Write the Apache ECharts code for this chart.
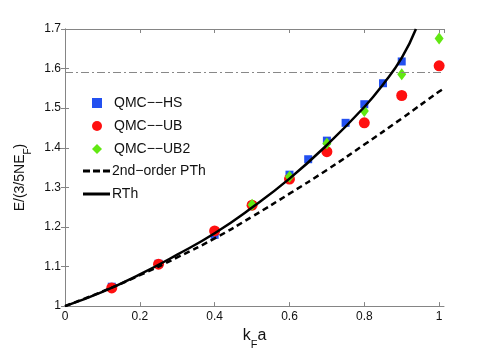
<!DOCTYPE html>
<html>
<head>
<meta charset="utf-8">
<title>E/(3/5NE_F) vs kFa</title>
<script src="https://cdn.jsdelivr.net/npm/echarts@6/dist/echarts.min.js"></script>
<style>
html, body { margin: 0; padding: 0; background: #fff; }
#main { width: 491px; height: 355px; }
</style>
</head>
<body>
<div id="main"></div>
<script type="text/javascript">
  // QMC data
  var hsX = [0.125, 0.25, 0.4, 0.5, 0.6, 0.65, 0.7, 0.75, 0.8, 0.85, 0.9];
  var hsY = [1.049, 1.107, 1.18, 1.255, 1.332, 1.371, 1.418, 1.463, 1.51, 1.563, 1.618];

  var ubX = [0.125, 0.25, 0.4, 0.5, 0.6, 0.7, 0.8, 0.9, 1.0];
  var ubY = [1.046, 1.106, 1.19, 1.255, 1.321, 1.39, 1.463, 1.532, 1.607];

  var ub2X = [0.5, 0.6, 0.7, 0.8, 0.9, 1.0];
  var ub2Y = [1.256, 1.327, 1.411, 1.493, 1.586, 1.676];

  // theory curves
  var ptX = [0, 0.1, 0.2, 0.3, 0.4, 0.5, 0.6, 0.7, 0.8, 0.9, 1.0, 1.013];
  var ptY = [1, 1.037, 1.078, 1.123, 1.171, 1.226, 1.284, 1.344, 1.408, 1.474, 1.542, 1.55];

  var rthX = [0, 0.1, 0.2, 0.3, 0.4, 0.5, 0.6, 0.7, 0.8, 0.85, 0.9, 0.938];
  var rthY = [1, 1.036, 1.08, 1.13, 1.184, 1.249, 1.322, 1.407, 1.503, 1.56, 1.627, 1.70];

  var levelY = 1.587;

  var names = ['QMC\u2212\u2212HS', 'QMC\u2212\u2212UB', 'QMC\u2212\u2212UB2', '2nd\u2212order PTh', 'RTh'];

  function pairs(xs, ys) {
    return xs.map(function (x, i) { return [x, ys[i]]; });
  }

  var frame = '#858585';
  var font = 'Liberation Sans, Arial, Helvetica, sans-serif';
  var blue = '#2350f0', red = '#ff1010', green = '#62e812';

  var chart = echarts.init(document.getElementById('main'));

  var xBase = {
    type: 'value', min: 0, max: 1.013, interval: 0.2,
    axisLine: { show: true, lineStyle: { color: frame, width: 1 } },
    axisTick: { show: true, inside: true, length: 4, lineStyle: { color: frame } },
    splitLine: { show: false }
  };
  var yBase = {
    type: 'value', min: 1, max: 1.7, interval: 0.1,
    axisLine: { show: true, lineStyle: { color: frame, width: 1 } },
    axisTick: { show: true, inside: true, length: 4, lineStyle: { color: frame } },
    splitLine: { show: false }
  };

  var legendText = { fontFamily: font, fontSize: 14, color: '#111' };

  var option = {
    backgroundColor: '#fff',
    animation: false,
    grid: { left: 65, right: 47, top: 29, bottom: 42, containLabel: false },
    legend: [
      {
        // marker entries
        orient: 'vertical', left: 92, top: 96, padding: 0,
        itemWidth: 10, itemHeight: 10, itemGap: 9,
        textStyle: Object.assign({ padding: [0, 0, 0, 7] }, legendText),
        data: [
          { name: names[0], icon: 'rect', itemStyle: { color: blue } },
          { name: names[1], icon: 'circle', itemStyle: { color: red } },
          { name: names[2], icon: 'diamond', itemStyle: { color: green } }
        ]
      },
      {
        // line entries
        orient: 'vertical', left: 83, top: 164, padding: 0,
        itemWidth: 27, itemHeight: 3, itemGap: 9,
        textStyle: Object.assign({ padding: [0, 0, 0, -3] }, legendText),
        data: [
          { name: names[3], icon: 'path://M0,0h7v3h-7zM10,0h7v3h-7zM20,0h7v3h-7z', itemStyle: { color: '#000' } },
          { name: names[4], icon: 'rect', itemStyle: { color: '#000' } }
        ]
      }
    ],
    xAxis: [
      Object.assign({}, xBase, {
        position: 'bottom',
        axisLabel: {
          show: true, margin: 5, fontFamily: font, fontSize: 12, color: '#111',
          showMaxLabel: false,
          formatter: function (v) {
            var k = Math.round(v / 0.2);
            if (Math.abs(v - k * 0.2) > 1e-6) return '';
            return String(+(k * 0.2).toFixed(1));
          }
        },
        name: '{a|k}{s|F}{a|a}',
        nameLocation: 'middle', nameGap: 12,
        nameTextStyle: {
          fontFamily: font, color: '#111',
          rich: {
            a: { fontFamily: font, fontSize: 16, color: '#111', verticalAlign: 'top', lineHeight: 22 },
            s: { fontFamily: font, fontSize: 11, color: '#111', verticalAlign: 'bottom', lineHeight: 22 }
          }
        }
      }),
      Object.assign({}, xBase, { position: 'top', axisLabel: { show: false } })
    ],
    yAxis: [
      Object.assign({}, yBase, {
        position: 'left',
        axisLabel: {
          show: true, margin: 4, fontFamily: font, fontSize: 12, color: '#111',
          formatter: function (v) { return String(+v.toFixed(1)); }
        },
        name: '{a|E/(3/5NE}{s|F}{a|)}',
        nameLocation: 'middle', nameGap: 26, nameRotate: 90,
        nameTextStyle: {
          fontFamily: font, color: '#111', padding: [0, 20, 0, 0],
          rich: {
            a: { fontFamily: font, fontSize: 14, color: '#111', verticalAlign: 'top', lineHeight: 20 },
            s: { fontFamily: font, fontSize: 10, color: '#111', verticalAlign: 'bottom', lineHeight: 20 }
          }
        }
      }),
      Object.assign({}, yBase, { position: 'right', axisLabel: { show: false } })
    ],
    series: [
      {
        name: names[0], type: 'scatter', symbol: 'rect', symbolSize: 8,
        itemStyle: { color: blue, opacity: 1 }, z: 2,
        data: pairs(hsX, hsY)
      },
      {
        name: names[1], type: 'scatter', symbol: 'circle', symbolSize: 11,
        itemStyle: { color: red, opacity: 1 }, z: 3,
        data: pairs(ubX, ubY)
      },
      {
        name: names[2], type: 'scatter', symbol: 'diamond', symbolSize: [9, 12],
        itemStyle: { color: green, opacity: 1 }, z: 4,
        data: pairs(ub2X, ub2Y)
      },
      {
        name: names[3], type: 'line', showSymbol: false, symbol: 'none', smooth: true,
        lineStyle: { color: '#000', width: 2.5, type: [6, 4] },
        itemStyle: { color: '#000' }, z: 5,
        data: pairs(ptX, ptY)
      },
      {
        name: names[4], type: 'line', showSymbol: false, symbol: 'none', smooth: true,
        lineStyle: { color: '#000', width: 2.5 },
        itemStyle: { color: '#000' }, z: 6,
        data: pairs(rthX, rthY),
        markLine: {
          silent: true, symbol: 'none', label: { show: false },
          lineStyle: { color: '#888', width: 1, type: [8, 3, 2, 3] },
          data: [{ yAxis: levelY }]
        }
      }
    ]
  };

  chart.setOption(option);
</script>
</body>
</html>
